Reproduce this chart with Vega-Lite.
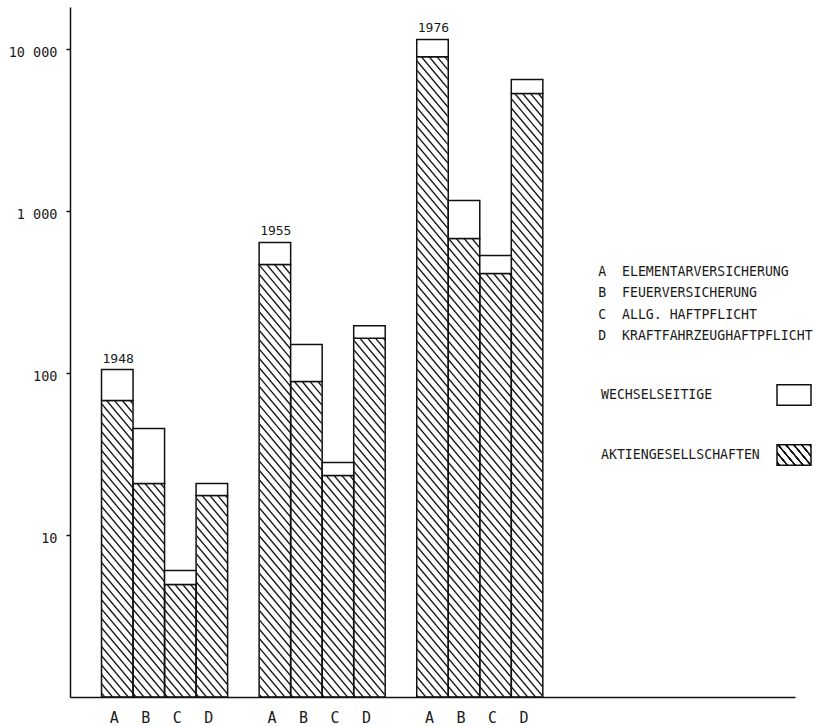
{
  "$schema": "https://vega.github.io/schema/vega-lite/v6.json",
  "autosize": {"type": "none"},
  "padding": {"left": 70, "top": 7, "right": 25, "bottom": 29},
  "width": 725,
  "height": 690,
  "background": "white",
  "data": {
    "values": [
      {"jahr": "1948", "sparte": "A", "slot": "1948 A", "aktien": 67.6, "gesamt": 105},
      {"jahr": "1948", "sparte": "B", "slot": "1948 B", "aktien": 20.8, "gesamt": 45.4},
      {"jahr": "1948", "sparte": "C", "slot": "1948 C", "aktien": 4.94, "gesamt": 6.04},
      {"jahr": "1948", "sparte": "D", "slot": "1948 D", "aktien": 17.5, "gesamt": 20.8},
      {"jahr": "1955", "sparte": "A", "slot": "1955 A", "aktien": 468, "gesamt": 640},
      {"jahr": "1955", "sparte": "B", "slot": "1955 B", "aktien": 88.7, "gesamt": 150},
      {"jahr": "1955", "sparte": "C", "slot": "1955 C", "aktien": 23.3, "gesamt": 28.0},
      {"jahr": "1955", "sparte": "D", "slot": "1955 D", "aktien": 164, "gesamt": 196},
      {"jahr": "1976", "sparte": "A", "slot": "1976 A", "aktien": 8970, "gesamt": 11460},
      {"jahr": "1976", "sparte": "B", "slot": "1976 B", "aktien": 676, "gesamt": 1161},
      {"jahr": "1976", "sparte": "C", "slot": "1976 C", "aktien": 411, "gesamt": 531},
      {"jahr": "1976", "sparte": "D", "slot": "1976 D", "aktien": 5310, "gesamt": 6486}
    ]
  },
  "encoding": {
    "x": {
      "field": "slot",
      "type": "nominal",
      "sort": null,
      "scale": {
        "type": "band",
        "paddingInner": 0,
        "paddingOuter": 0,
        "domain": ["s0", "1948 A", "1948 B", "1948 C", "1948 D", "s1", "1955 A", "1955 B", "1955 C", "1955 D", "s2", "1976 A", "1976 B", "1976 C", "1976 D", "s3", "s4", "s5", "s6", "s7", "s8", "s9", "s10"]
      },
      "axis": {
        "title": null,
        "orient": "bottom",
        "labelAngle": 0,
        "ticks": false,
        "labelPadding": 13,
        "labelOffset": -3,
        "labelFont": "DejaVu Sans Mono",
        "labelFontSize": 15,
        "labelColor": "#1a1a1a",
        "domainColor": "#111",
        "domainWidth": 1.5,
        "zindex": 1,
        "labelExpr": "indexof(datum.value, ' ') > 0 ? slice(datum.value, -1) : ''"
      }
    }
  },
  "layer": [
    {
      "data": {"values": [{}]},
      "mark": {"type": "rule", "clip": true, "strokeWidth": 2500, "strokeDash": [1.4, 4.6], "color": "#1a1a1a"},
      "encoding": {
        "x": {"datum": "s0"},
        "x2": {"datum": "s9"},
        "y": {
          "datum": 0.7,
          "type": "quantitative",
          "scale": {"type": "log", "domain": [1, 18160], "nice": false},
          "axis": {
            "title": null,
            "grid": false,
            "values": [10, 100, 1000, 10000],
            "tickSize": 4,
            "tickWidth": 1.5,
            "tickColor": "#111",
            "domainColor": "#111",
            "domainWidth": 1.5,
            "labelPadding": 9,
            "labelOffset": 4,
            "labelFont": "DejaVu Sans Mono",
            "labelFontSize": 13.5,
            "labelColor": "#1a1a1a",
            "zindex": 1,
            "labelExpr": "replace(format(datum.value, ','), ',', ' ')"
          }
        },
        "y2": {"datum": 1875}
      }
    },
    {
      "mark": {"type": "bar", "fill": "white", "stroke": "white", "strokeWidth": 1},
      "encoding": {
        "y": {"field": "aktien", "type": "quantitative"},
        "y2": {"datum": 18160}
      }
    },
    {
      "data": {"values": [{"slot": "s0"}, {"slot": "s1"}, {"slot": "s2"}, {"slot": "s3"}, {"slot": "s4"}, {"slot": "s5"}, {"slot": "s6"}, {"slot": "s7"}, {"slot": "s8"}, {"slot": "s9"}, {"slot": "s10"}]},
      "mark": {"type": "bar", "fill": "white", "stroke": "white", "strokeWidth": 1},
      "encoding": {
        "y": {"datum": 1, "type": "quantitative"},
        "y2": {"datum": 18160}
      }
    },
    {
      "mark": {"type": "bar", "fill": "transparent", "stroke": "#111", "strokeWidth": 1.5},
      "encoding": {
        "y": {"field": "aktien", "type": "quantitative"},
        "y2": {"datum": 1}
      }
    },
    {
      "mark": {"type": "bar", "stroke": "#111", "strokeWidth": 1.5},
      "encoding": {
        "y": {"field": "gesamt", "type": "quantitative"},
        "y2": {"field": "aktien"},
        "fill": {
          "datum": "WECHSELSEITIGE",
          "scale": {
            "domain": ["WECHSELSEITIGE", "AKTIENGESELLSCHAFTEN"],
            "range": [
              "white",
              {"expr": "{gradient: 'linear', x1: 0, y1: 1, x2: 1.1995, y2: 0.3957, stops: [{offset: 0, color: 'white'}, {offset: 0.022, color: 'white'}, {offset: 0.032, color: '#111'}, {offset: 0.068, color: '#111'}, {offset: 0.078, color: 'white'}, {offset: 0.175, color: 'white'}, {offset: 0.185, color: '#111'}, {offset: 0.221, color: '#111'}, {offset: 0.231, color: 'white'}, {offset: 0.328, color: 'white'}, {offset: 0.338, color: '#111'}, {offset: 0.374, color: '#111'}, {offset: 0.384, color: 'white'}, {offset: 0.482, color: 'white'}, {offset: 0.492, color: '#111'}, {offset: 0.528, color: '#111'}, {offset: 0.538, color: 'white'}, {offset: 0.635, color: 'white'}, {offset: 0.645, color: '#111'}, {offset: 0.681, color: '#111'}, {offset: 0.691, color: 'white'}, {offset: 0.788, color: 'white'}, {offset: 0.798, color: '#111'}, {offset: 0.834, color: '#111'}, {offset: 0.844, color: 'white'}, {offset: 0.941, color: 'white'}, {offset: 0.951, color: '#111'}, {offset: 0.987, color: '#111'}, {offset: 0.997, color: 'white'}, {offset: 1, color: 'white'}]}"}
            ]
          },
          "legend": {
            "title": null,
            "orient": "none",
            "legendX": 706,
            "legendY": 370,
            "symbolType": "M-1,-0.6H1V0.6H-1Z",
            "symbolSize": 1156,
            "symbolStrokeColor": "#111",
            "symbolStrokeWidth": 1.5,
            "rowPadding": 28,
            "labelAlign": "left",
            "labelOffset": -211,
            "labelLimit": 400,
            "labelFont": "DejaVu Sans Mono",
            "labelFontSize": 13.2,
            "labelColor": "#1a1a1a"
          }
        }
      }
    },
    {
      "mark": {"type": "point", "opacity": 0},
      "encoding": {
        "y": {"field": "gesamt", "type": "quantitative"},
        "shape": {
          "field": "sparte",
          "type": "nominal",
          "legend": {
            "title": null,
            "orient": "none",
            "legendX": 515,
            "legendY": 258,
            "symbolSize": 0,
            "symbolOpacity": 0,
            "symbolStrokeWidth": 0,
            "labelOffset": 0,
            "rowPadding": 7.5,
            "labelLimit": 400,
            "labelFont": "DejaVu Sans Mono",
            "labelFontSize": 13.2,
            "labelColor": "#1a1a1a",
            "labelExpr": "datum.label == 'A' ? 'A\u00a0\u00a0ELEMENTARVERSICHERUNG' : datum.label == 'B' ? 'B\u00a0\u00a0FEUERVERSICHERUNG' : datum.label == 'C' ? 'C\u00a0\u00a0ALLG. HAFTPFLICHT' : 'D\u00a0\u00a0KRAFTFAHRZEUGHAFTPFLICHT'"
          }
        }
      }
    },
    {
      "transform": [{"filter": "datum.sparte === 'A'"}],
      "mark": {"type": "text", "align": "left", "baseline": "bottom", "dx": 1, "dy": -4, "font": "DejaVu Sans Mono", "fontSize": 13, "color": "#1a1a1a"},
      "encoding": {
        "x": {"field": "slot", "type": "nominal", "bandPosition": 0},
        "y": {"field": "gesamt", "type": "quantitative"},
        "text": {"field": "jahr"}
      }
    }
  ],
  "resolve": {"scale": {"y": "shared"}},
  "config": {
    "view": {"stroke": null},
    "font": "DejaVu Sans Mono"
  }
}
